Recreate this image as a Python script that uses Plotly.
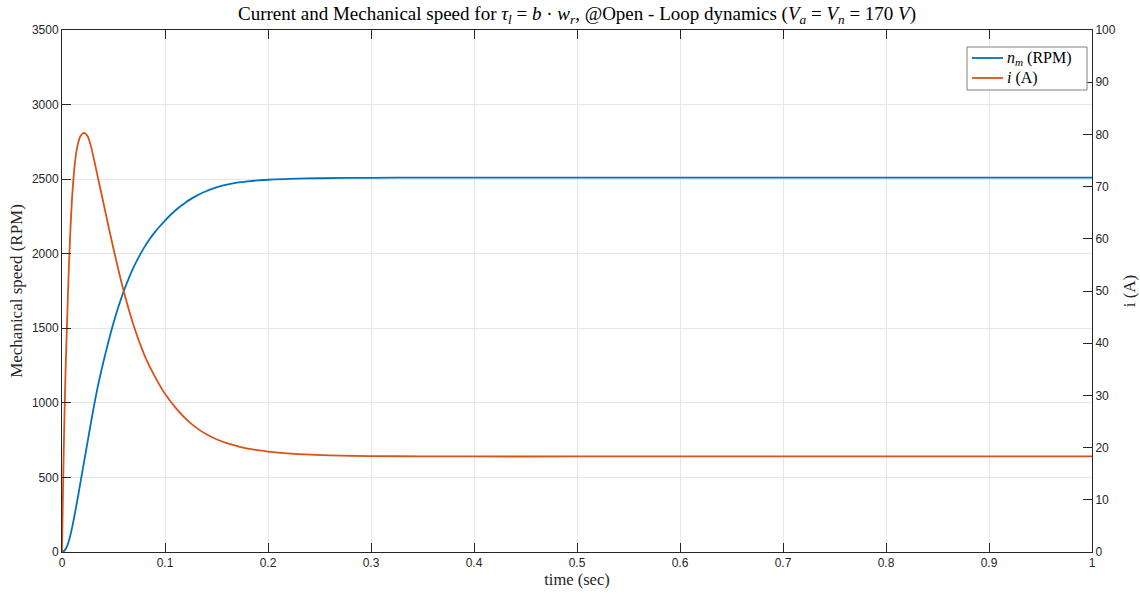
import plotly.graph_objects as go

# ---- data ----
t_speed = [0, 0.0025, 0.005, 0.0075, 0.010, 0.0125, 0.015, 0.0175, 0.020, 0.025,
           0.030, 0.035, 0.040, 0.045, 0.050, 0.055, 0.060, 0.065, 0.070, 0.075,
           0.080, 0.085, 0.090, 0.095, 0.100, 0.105, 0.110, 0.115, 0.120, 0.125,
           0.130, 0.135, 0.140, 0.145, 0.150, 0.160, 0.170, 0.180, 0.190, 0.200,
           0.220, 0.250, 0.300, 0.350, 0.400, 0.500, 0.600, 0.700, 0.800, 0.900, 1.000]
speed_rpm = [0, 10, 40, 95, 170, 258, 352, 450, 549, 745,
             940, 1117, 1269, 1408, 1535, 1649, 1750, 1838, 1916, 1984,
             2044, 2097, 2143, 2184, 2222, 2258, 2290, 2318, 2344, 2366,
             2386, 2404, 2419, 2433, 2445, 2463, 2476, 2485, 2492, 2496,
             2502, 2506, 2509, 2510, 2510, 2510, 2510, 2510, 2510, 2510, 2510]

t_current = [0, 0.001, 0.002, 0.0035, 0.005, 0.0065, 0.008, 0.010, 0.0125, 0.015,
             0.018, 0.0214, 0.025, 0.028, 0.0315, 0.035, 0.040, 0.046, 0.0527, 0.060,
             0.0705, 0.080, 0.0854, 0.093, 0.100, 0.110, 0.1178, 0.126, 0.134, 0.142,
             0.150, 0.160, 0.1728, 0.185, 0.200, 0.215, 0.230, 0.260, 0.300, 0.350,
             0.400, 0.500, 0.600, 0.700, 0.800, 0.900, 1.000]
current_a = [0, 12, 22.5, 35, 44.5, 53.5, 61, 68.5, 74.5, 77.8,
             79.7, 80.3, 79.6, 77.8, 74.8, 71.6, 67.1, 61.6, 55.8, 49.9,
             42.8, 37.7, 35.4, 32.6, 30.3, 27.7, 26.0, 24.5, 23.3, 22.35,
             21.6, 20.85, 20.15, 19.65, 19.25, 18.95, 18.75, 18.52, 18.38, 18.33,
             18.3, 18.3, 18.3, 18.3, 18.3, 18.3, 18.3]

x_ticks = [0, 0.1, 0.2, 0.3, 0.4, 0.5, 0.6, 0.7, 0.8, 0.9, 1]
x_ticklabels = ["0", "0.1", "0.2", "0.3", "0.4", "0.5", "0.6", "0.7", "0.8", "0.9", "1"]
y1_ticks = [0, 500, 1000, 1500, 2000, 2500, 3000, 3500]
y2_ticks = [0, 10, 20, 30, 40, 50, 60, 70, 80, 90, 100]
legend_labels = ["<i>n<sub>m</sub></i> (RPM)", "<i>i</i> (A)"]

BLUE = "#0072BD"
ORANGE = "#D95319"
AX = "#262626"
GRID = "#e6e6e6"
SERIF = "Liberation Serif, Times New Roman, serif"
SANS = "Liberation Sans, Arial, sans-serif"

# plot-area geometry (pixels) used to place the hand-built legend
L, R, T, B = 62, 1092, 30, 552
def px(x):
    return (x - L) / (R - L)
def py(y):
    return (B - y) / (B - T)

fig = go.Figure()
fig.add_trace(go.Scatter(x=t_speed, y=speed_rpm, mode="lines",
                         line=dict(color=BLUE, width=1.8, shape="spline", smoothing=0.8),
                         name=legend_labels[0], yaxis="y", showlegend=False))
fig.add_trace(go.Scatter(x=t_current, y=current_a, mode="lines",
                         line=dict(color=ORANGE, width=1.8, shape="spline", smoothing=0.8),
                         name=legend_labels[1], yaxis="y2", showlegend=False))

# legend box (built from shapes + annotations to match the compact MATLAB legend)
shapes = [dict(type="rect", xref="paper", yref="paper",
               x0=px(967), x1=px(1087), y0=py(90), y1=py(47),
               line=dict(color="#808080", width=1), fillcolor="white", layer="above")]
annotations = []
for k, (lab, col) in enumerate(zip(legend_labels, [BLUE, ORANGE])):
    yc = 58 + 20 * k
    shapes.append(dict(type="line", xref="paper", yref="paper",
                       x0=px(972), x1=px(1003), y0=py(yc), y1=py(yc),
                       line=dict(color=col, width=1.8), layer="above"))
    annotations.append(dict(xref="paper", yref="paper", x=px(1005), y=py(yc),
                            xanchor="left", yanchor="middle", showarrow=False,
                            text=lab, font=dict(family=SERIF, size=16, color="black")))

fig.update_layout(
    width=1140, height=593,
    margin=dict(l=L, r=1140 - R, t=T, b=593 - B, autoexpand=False),
    paper_bgcolor="white", plot_bgcolor="white",
    title=dict(text="Current and Mechanical speed for <i>τ<sub>l</sub></i> = <i>b</i> · <i>w<sub>r</sub></i>, "
                    "@Open - Loop dynamics (<i>V<sub>a</sub></i> = <i>V<sub>n</sub></i> = 170 <i>V</i>)",
               x=(L + R) / 2 / 1140, xanchor="center", y=1 - 13 / 593, yanchor="middle",
               font=dict(family=SERIF, size=19, color="black")),
    xaxis=dict(range=[0, 1], tickvals=x_ticks, ticktext=x_ticklabels, automargin=False,
               showgrid=True, gridcolor=GRID, gridwidth=1, zeroline=False,
               showline=True, linecolor=AX, linewidth=1, mirror="ticks",
               ticks="inside", ticklen=9, tickcolor=AX,
               tickfont=dict(family=SANS, size=12, color=AX),
               title=dict(text="time (sec)", font=dict(family=SERIF, size=16.5, color=AX), standoff=2)),
    yaxis=dict(range=[0, 3500], tickvals=y1_ticks, automargin=False,
               showgrid=True, gridcolor=GRID, gridwidth=1, zeroline=False,
               showline=True, linecolor=AX, linewidth=1,
               ticks="inside", ticklen=9, tickcolor=AX,
               tickfont=dict(family=SANS, size=12, color=AX),
               title=dict(text="Mechanical speed (RPM)", font=dict(family=SERIF, size=17, color=AX), standoff=4)),
    yaxis2=dict(range=[0, 100], tickvals=y2_ticks, overlaying="y", side="right", automargin=False,
                showgrid=False, zeroline=False,
                showline=True, linecolor=AX, linewidth=1,
                ticks="inside", ticklen=9, tickcolor=AX,
                tickfont=dict(family=SANS, size=12, color=AX),
                title=dict(text="i (A)", font=dict(family=SERIF, size=17, color=AX), standoff=8)),
    shapes=shapes,
    annotations=annotations,
    showlegend=False,
)

fig.write_html("out.html")
